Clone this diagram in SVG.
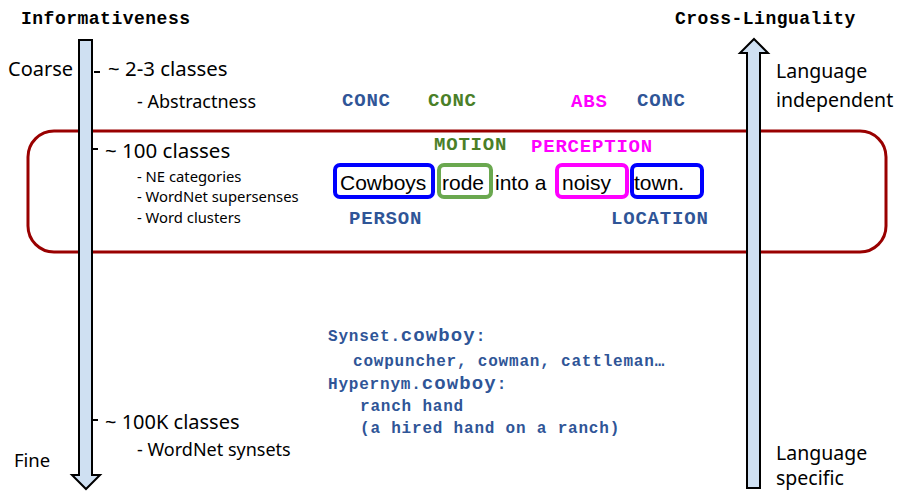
<svg xmlns="http://www.w3.org/2000/svg" width="901" height="491" viewBox="0 0 901 491">
<style>
.hdr{font-family:"Liberation Mono","DejaVu Sans Mono",monospace;font-weight:bold;font-size:18px;letter-spacing:0.5px;fill:#000}
.sans{font-family:"Noto Sans","Open Sans",sans-serif;fill:#000}
.lbl{font-family:"Liberation Mono","Courier New",monospace;font-weight:bold;font-size:19px;letter-spacing:0.8px}
.blue{fill:#2F5597}
.green{fill:#4A7F28}
.mag{fill:#FF00FF}
.word{font-family:"Liberation Sans",Arial,sans-serif;font-size:21px;fill:#000}
.box{fill:#fff;stroke-width:4}
.code{font-family:"Liberation Mono","Courier New",monospace;font-weight:bold;font-size:16px;letter-spacing:0.8px;fill:#2F5597}
.big{font-size:19px;letter-spacing:1.1px}
.arrow{fill:#CFE0F2;stroke:#000;stroke-width:2}
.tick{stroke:#000;stroke-width:2}
</style>
<rect width="901" height="491" fill="#fff"/>

<g id="frame">
<rect x="28" y="131" width="858" height="121" rx="26" ry="26" fill="none" stroke="#990000" stroke-width="3"/>
</g>

<g id="connectors">
<polygon class="arrow" points="79,40 92,40 92,475 100,475 86,489 72,475 79,475"/>
<polygon class="arrow" points="754,39 768,53 760,53 760,488 747,488 747,53 740,53"/>
<line class="tick" x1="94" y1="72" x2="100" y2="72"/>
<line class="tick" x1="92" y1="149" x2="98" y2="149"/>
<line class="tick" x1="92" y1="420" x2="98" y2="420"/>
</g>

<g id="headers">
<text class="hdr" x="21" y="24">Informativeness</text>
<text class="hdr" x="675" y="24">Cross-Linguality</text>
</g>

<g id="scale-left">
<text class="sans" x="8" y="76" font-size="20">Coarse</text>
<text class="sans" x="14" y="467" font-size="18.5">Fine</text>
</g>

<g id="level-coarse">
<text class="sans" x="108" y="76" font-size="20.4">~ 2-3 classes</text>
<text class="sans" x="137" y="108" font-size="18">- Abstractness</text>
</g>

<g id="level-100">
<text class="sans" x="105" y="158" font-size="20.5">~ 100 classes</text>
<text class="sans" x="137" y="182" font-size="14.8">- NE categories</text>
<text class="sans" x="137" y="202" font-size="14.8">- WordNet supersenses</text>
<text class="sans" x="137" y="223" font-size="14.8">- Word clusters</text>
</g>

<g id="level-100k">
<text class="sans" x="105" y="429" font-size="20">~ 100K classes</text>
<text class="sans" x="137" y="456" font-size="18">- WordNet synsets</text>
</g>

<g id="scale-right">
<text class="sans" x="776" y="78" font-size="19.5">Language</text>
<text class="sans" x="776" y="107" font-size="19.5">independent</text>
<text class="sans" x="776" y="460" font-size="19.5">Language</text>
<text class="sans" x="776" y="485" font-size="19.5">specific</text>
</g>

<g id="abstractness-labels">
<text class="lbl blue" x="342" y="106">CONC</text>
<text class="lbl green" x="428" y="106">CONC</text>
<text class="lbl mag" x="571" y="107">ABS</text>
<text class="lbl blue" x="637" y="106">CONC</text>
</g>

<g id="supersense-labels">
<text class="lbl green" x="434" y="150">MOTION</text>
<text class="lbl mag" x="531" y="152">PERCEPTION</text>
<text class="lbl blue" x="349" y="224">PERSON</text>
<text class="lbl blue" x="611" y="224">LOCATION</text>
</g>

<g id="w-cowboys">
<rect class="box" x="335" y="165" width="98" height="32" rx="5" stroke="#0000FF"/>
<text class="word" x="340" y="190">Cowboys</text>
</g>
<g id="w-rode">
<rect class="box" x="439" y="165" width="52" height="32" rx="5" stroke="#6AA84F"/>
<text class="word" x="442" y="190">rode</text>
</g>
<g id="w-into">
<text class="word" x="495" y="190">into a</text>
</g>
<g id="w-noisy">
<rect class="box" x="557" y="165" width="70" height="32" rx="5" stroke="#FF00FF"/>
<text class="word" x="562" y="190">noisy</text>
</g>
<g id="w-town">
<rect class="box" x="632" y="165" width="70" height="32" rx="5" stroke="#0000FF"/>
<text class="word" x="634" y="190">town.</text>
</g>

<g id="synset-info">
<text class="code" x="328" y="341">Synset.<tspan class="big">cowboy</tspan>:</text>
<text class="code" x="353" y="366">cowpuncher, cowman, cattleman…</text>
<text class="code" x="328" y="389">Hypernym.<tspan class="big">cowboy</tspan>:</text>
<text class="code" x="360" y="411">ranch hand</text>
<text class="code" x="360" y="433">(a hired hand on a ranch)</text>
</g>
</svg>
